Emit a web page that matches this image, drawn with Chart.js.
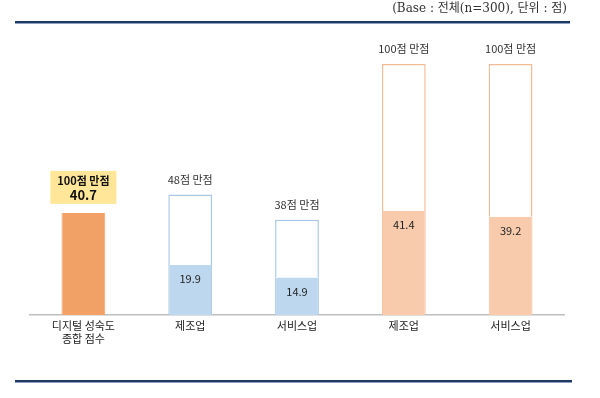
<!DOCTYPE html>
<html>
<head>
<meta charset="utf-8">
<script src="https://cdn.jsdelivr.net/npm/chart.js@4"></script>
<style>
  html, body { margin: 0; padding: 0; background: #fff; }
  #wrap { width: 600px; height: 398px; position: relative; }
</style>
</head>
<body>
<div id="wrap"><canvas id="scoreChart"></canvas></div>
<script>
const categories = [['디지털 성숙도', '종합 점수'], '제조업', '서비스업', '제조업', '서비스업'];
const scores = [40.7, 19.9, 14.9, 41.4, 39.2];
const maxScores = [100, 48, 38, 100, 100];
const maxLabels = ['100점 만점', '48점 만점', '38점 만점', '100점 만점', '100점 만점'];
const noteText = '(Base : 전체(n=300), 단위 : 점)';

const FONT = "'Noto Sans CJK KR', 'Noto Sans', sans-serif";
const fillColors = ['#F1A166', '#BDD7EE', '#BDD7EE', '#F8CBAD', '#F8CBAD'];
const edgeColors = ['#F1A166', '#A9C8E8', '#A9C8E8', '#F4BC96', '#F4BC96'];

// white "rest of the max score" part, none for the total bar
const rest = maxScores.map((m, i) => i === 0 ? null : +(m - scores[i]).toFixed(1));

// labels, yellow box and the frame lines
const decor = {
  id: 'decor',
  afterDatasetsDraw(chart) {
    const ctx = chart.ctx;
    const valMeta = chart.getDatasetMeta(0);
    const restMeta = chart.getDatasetMeta(1);
    ctx.save();
    ctx.textAlign = 'center';
    ctx.textBaseline = 'middle';

    scores.forEach((v, i) => {
      const bar = valMeta.data[i];
      if (i === 0) {
        const x = bar.x;
        ctx.fillStyle = '#FFE699';
        ctx.fillRect(x - 33, bar.y - 42, 66, 33);
        ctx.fillStyle = '#111';
        ctx.font = 'bold 11px ' + FONT;
        ctx.fillText(maxLabels[i], x, bar.y - 32);
        ctx.font = 'bold 13px ' + FONT;
        ctx.fillText(v.toFixed(1), x, bar.y - 18);
        return;
      }
      ctx.fillStyle = '#222';
      ctx.font = '11px ' + FONT;
      ctx.fillText(v.toFixed(1), bar.x, bar.y + 14);
      const top = restMeta.data[i];
      ctx.fillStyle = '#333';
      ctx.fillText(maxLabels[i], bar.x, top.y - 15);
    });

    // header note
    ctx.textAlign = 'right';
    ctx.fillStyle = '#333';
    ctx.font = "12px 'DejaVu Serif', 'Noto Sans CJK KR', serif";
    ctx.fillText(noteText, 567, 9);

    // double rules top and bottom
    [[22, 15, 570], [381, 15, 572]].forEach(([y, x0, x1]) => {
      ctx.fillStyle = '#1F3864';
      ctx.fillRect(x0, y - 1, x1 - x0, 2);
      ctx.fillStyle = '#8EA0C0';
      ctx.fillRect(x0, y + 1, x1 - x0, 1);
    });
    ctx.restore();
  }
};

new Chart(document.getElementById('scoreChart'), {
  type: 'bar',
  data: {
    labels: categories,
    datasets: [
      {
        data: scores,
        backgroundColor: fillColors,
        borderColor: edgeColors,
        borderWidth: { left: 1, right: 1, top: 0, bottom: 0 },
        borderSkipped: false
      },
      {
        data: rest,
        backgroundColor: '#FFFFFF',
        borderColor: edgeColors,
        borderWidth: { left: 1.5, right: 1.5, top: 1.5, bottom: 0 },
        borderSkipped: false
      }
    ]
  },
  options: {
    responsive: true,
    maintainAspectRatio: false,
    animation: false,
    layout: { padding: { left: 30, right: 36, top: 39, bottom: 0 } },
    plugins: { legend: { display: false }, tooltip: { enabled: false } },
    datasets: { bar: { barPercentage: 1, categoryPercentage: 0.41 } },
    scales: {
      x: {
        stacked: true,
        grid: { display: false, drawTicks: false },
        border: { display: true, color: '#BFBFBF', width: 1.5 },
        ticks: { color: '#222', font: { family: FONT, size: 11 }, padding: 4, maxRotation: 0 },
        afterFit: s => { s.height = 83; }
      },
      y: {
        stacked: true,
        display: false,
        min: 0,
        max: 110
      }
    }
  },
  plugins: [decor]
});
</script>
</body>
</html>
